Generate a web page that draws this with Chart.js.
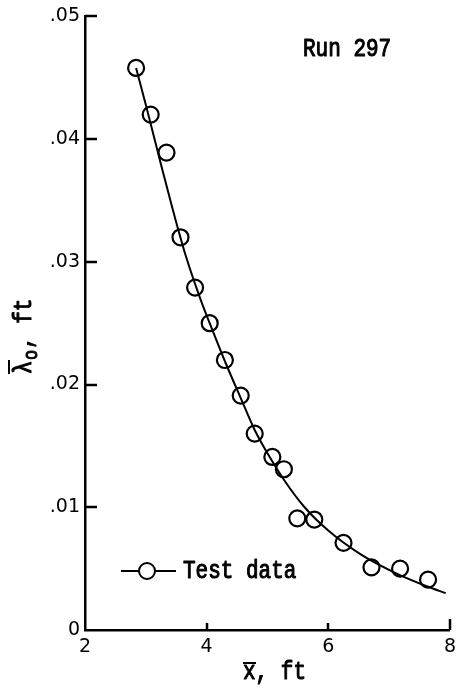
<!DOCTYPE html>
<html>
<head>
<meta charset="utf-8">
<script src="https://cdn.jsdelivr.net/npm/chart.js@4.4.0/dist/chart.umd.min.js"></script>
<style>
  html, body { margin: 0; padding: 0; background: #fff; }
  #wrap { width: 462px; height: 690px; }
</style>
</head>
<body>
<div id="wrap"><canvas id="chart" width="462" height="690"></canvas></div>
<script>
// test data points
const testX = [2.84, 3.08, 3.34, 3.57, 3.81, 4.05, 4.30, 4.56, 4.79, 5.08, 5.27, 5.49, 5.77, 6.25, 6.71, 7.18, 7.64];
const testY = [0.0458, 0.0420, 0.0389, 0.0320, 0.0279, 0.0250, 0.0220, 0.0191, 0.0160, 0.0141, 0.0131, 0.0091, 0.0090, 0.0071, 0.0051, 0.0050, 0.0041];

// faired curve through the data
const curveX = [2.84, 3.00, 3.21, 3.43, 3.65, 3.91, 4.05, 4.30, 4.56, 4.79, 5.00, 5.29, 5.61, 6.00, 6.52, 7.08, 7.65, 7.93];
const curveY = [0.0458, 0.0428, 0.0387, 0.0345, 0.0306, 0.0268, 0.0250, 0.0219, 0.0189, 0.0163, 0.0144, 0.0121, 0.0100, 0.0081, 0.0062, 0.0047, 0.0035, 0.0030];

const xTicks = [2, 4, 6, 8];
const yTicks = [0, 0.01, 0.02, 0.03, 0.04, 0.05];

const monoFont = '"Liberation Mono", "DejaVu Sans Mono", monospace';

// typewriter text: slightly stretched and thickened like the original
function typeText(ctx, str, x, y, size) {
  ctx.save();
  ctx.translate(x, y);
  ctx.scale(1, 1.2);
  ctx.font = size + 'px ' + monoFont;
  ctx.lineWidth = 0.9;
  ctx.lineJoin = 'round';
  ctx.fillText(str, 0, 0);
  ctx.strokeText(str, 0, 0);
  ctx.restore();
}

// inward tick marks + annotations
const decorPlugin = {
  id: 'decor',
  afterDraw(chart) {
    const ctx = chart.ctx;
    const area = chart.chartArea;
    const xs = chart.scales.x, ys = chart.scales.y;
    ctx.save();
    ctx.strokeStyle = '#000';
    ctx.lineWidth = 2.5;
    ctx.beginPath();
    yTicks.forEach(v => {
      if (v === 0) return;
      const py = Math.round(ys.getPixelForValue(v));
      ctx.moveTo(area.left, py);
      ctx.lineTo(area.left + 12, py);
    });
    xTicks.forEach(v => {
      if (v === 2) return;
      const px = Math.round(xs.getPixelForValue(v));
      ctx.moveTo(px, area.bottom);
      ctx.lineTo(px, area.bottom - (v === 8 ? 11 : 7));
    });
    ctx.stroke();

    ctx.fillStyle = '#000';
    ctx.textBaseline = 'alphabetic';
    ctx.textAlign = 'left';
    typeText(ctx, 'Run 297', 303, 56, 21);

    // legend
    ctx.lineWidth = 2;
    ctx.beginPath();
    ctx.moveTo(121, 571);
    ctx.lineTo(176, 571);
    ctx.stroke();
    ctx.beginPath();
    ctx.arc(147, 571, 8, 0, Math.PI * 2);
    ctx.fillStyle = '#fff';
    ctx.fill();
    ctx.stroke();
    ctx.fillStyle = '#000';
    typeText(ctx, 'Test data', 183, 578, 21);

    // x title with overbar
    typeText(ctx, 'x, ft', 243, 679, 21);
    ctx.lineWidth = 2;
    ctx.beginPath();
    ctx.moveTo(243, 663);
    ctx.lineTo(256, 663);
    ctx.stroke();

    // y title, rotated, with overbar and subscript
    ctx.translate(31, 374);
    ctx.rotate(-Math.PI / 2);
    typeText(ctx, '\u03bb', 0, 0, 22);
    ctx.lineWidth = 2;
    ctx.beginPath();
    ctx.moveTo(0, -22);
    ctx.lineTo(14, -22);
    ctx.stroke();
    typeText(ctx, 'o', 14, 6, 17);
    typeText(ctx, ', ft', 25, 0, 21);
    ctx.restore();
  }
};

new Chart(document.getElementById('chart'), {
  type: 'scatter',
  data: {
    datasets: [
      {
        label: 'Curve',
        data: curveX.map((x, i) => ({ x: x, y: curveY[i] })),
        showLine: true,
        cubicInterpolationMode: 'monotone',
        borderColor: '#000',
        borderWidth: 2,
        pointRadius: 0,
        fill: false
      },
      {
        label: 'Test data',
        data: testX.map((x, i) => ({ x: x, y: testY[i] })),
        showLine: false,
        pointStyle: 'circle',
        pointRadius: 8,
        pointBorderWidth: 2.2,
        pointBackgroundColor: '#fff',
        pointBorderColor: '#000'
      }
    ]
  },
  options: {
    responsive: false,
    animation: false,
    events: [],
    layout: { padding: { top: 15, right: 6, left: 0, bottom: 0 } },
    plugins: { legend: { display: false }, tooltip: { enabled: false } },
    scales: {
      x: {
        type: 'linear',
        min: 2,
        max: 8,
        afterBuildTicks: (s) => { s.ticks = xTicks.map(v => ({ value: v })); },
        ticks: { color: '#000', padding: 6, font: { family: '"DejaVu Sans"', size: 19 } },
        grid: { display: false, drawTicks: false },
        border: { display: true, color: '#000', width: 2.5 },
        afterFit: (s) => { s.height = 60; }
      },
      y: {
        type: 'linear',
        min: 0,
        max: 0.05,
        afterBuildTicks: (s) => { s.ticks = yTicks.map(v => ({ value: v })); },
        ticks: {
          color: '#000',
          padding: 5,
          font: { family: '"DejaVu Sans"', size: 19 },
          callback: (v) => v === 0 ? '0' : '.' + String(Math.round(v * 100)).padStart(2, '0')
        },
        grid: { display: false, drawTicks: false },
        border: { display: true, color: '#000', width: 2.5 },
        afterFit: (s) => { s.width = 85; }
      }
    }
  },
  plugins: [decorPlugin]
});
</script>
</body>
</html>
